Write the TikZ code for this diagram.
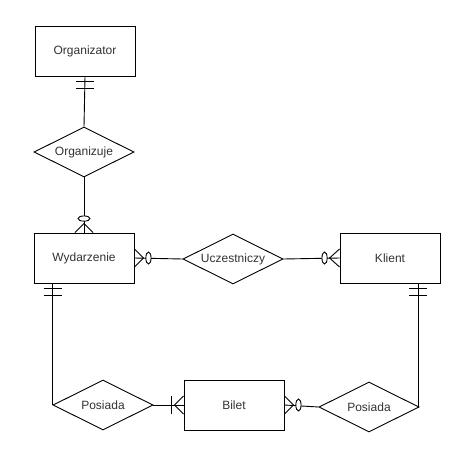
\documentclass[tikz,border=0pt]{standalone}
\usepackage{fontspec}
\setmainfont{Liberation Sans}
\usetikzlibrary{shapes.geometric,calc}
\begin{document}
\begin{tikzpicture}[x=1pt,y=-1pt,
  ent/.style={draw, rectangle, line width=0.9pt, minimum width=100pt, minimum height=50pt, inner sep=0pt, text=black!80, font=\fontsize{12}{14}\selectfont},
  rel/.style={draw, diamond, shape aspect=2, line width=0.9pt, minimum width=100pt, minimum height=50pt, inner sep=0pt, text=black!80, font=\fontsize{12}{14}\selectfont},
  conn/.style={line width=0.9pt},
  tick/.style={line width=0.9pt},
  ring/.style={line width=0.9pt, fill=white, draw}]
\useasboundingbox[fill=white] (0,0) rectangle (476,450);

% entities
\node[ent] (org) at (85,51) {Organizator};
\node[ent] (wyd) at (84,258) {Wydarzenie};
\node[ent] (kl) at (390,258) {Klient};
\node[ent] (bil) at (234,405) {Bilet};

% relationships
\node[rel] (orgz) at (84,152) {Organizuje};
\node[rel] (ucz) at (233,259) {Uczestniczy};
\node[rel] (pos1) at (103,405) {Posiada};
\node[rel] (pos2) at (369,407) {Posiada};

% anchor points for side connectors
\coordinate (wydb) at ($(wyd.south west)+(19,0)$);
\coordinate (klb) at ($(kl.south east)+(-22,0)$);

% connectors
\draw[conn] (orgz.north) -- (org.south);
\draw[conn] (orgz.south) -- (wyd.north);
\draw[conn] (ucz.west) -- (wyd.east);
\draw[conn] (ucz.east) -- (kl.west);
\draw[conn] (wydb) |- (pos1.west);
\draw[conn] (klb) |- (pos2.east);
\draw[conn] (pos1.east) -- (bil.west);
\draw[conn] (pos2.west) -- (bil.east);

% Organizator: mandatory one
\draw[tick] ($(org.south)+(-9,5)$) -- ++(18,0);
\draw[tick] ($(org.south)+(-9,12)$) -- ++(18,0);

% Wydarzenie top: zero to many
\draw[tick] ($(wyd.north)+(-9,0)$) -- ($(wyd.north)+(0,-9)$) -- ($(wyd.north)+(9,0)$);
\draw[ring] ($(wyd.north)+(0,-14)$) ellipse [x radius=6, y radius=2.6];

% Wydarzenie right: zero to many
\draw[tick] ($(wyd.east)+(0,-9)$) -- ($(wyd.east)+(9,0)$) -- ($(wyd.east)+(0,9)$);
\draw[ring] ($(wyd.east)+(14,0)$) ellipse [x radius=2.6, y radius=6];

% Klient left: zero to many
\draw[tick] ($(kl.west)+(0,-9)$) -- ($(kl.west)+(-10,0)$) -- ($(kl.west)+(0,9)$);
\draw[ring] ($(kl.west)+(-15,0)$) ellipse [x radius=2.6, y radius=6];

% Wydarzenie bottom: mandatory one
\draw[tick] ($(wydb)+(-9,5)$) -- ++(18,0);
\draw[tick] ($(wydb)+(-9,12)$) -- ++(18,0);

% Klient bottom: mandatory one
\draw[tick] ($(klb)+(-9,5)$) -- ++(18,0);
\draw[tick] ($(klb)+(-9,12)$) -- ++(18,0);

% Bilet left: one to many
\draw[tick] ($(bil.west)+(0,-9)$) -- ($(bil.west)+(-9,0)$) -- ($(bil.west)+(0,9)$);
\draw[tick] ($(bil.west)+(-12,-9)$) -- ++(0,18);

% Bilet right: zero to many
\draw[tick] ($(bil.east)+(0,-9)$) -- ($(bil.east)+(9,0)$) -- ($(bil.east)+(0,9)$);
\draw[ring] ($(bil.east)+(14,0)$) ellipse [x radius=2.6, y radius=6];
\end{tikzpicture}
\end{document}
